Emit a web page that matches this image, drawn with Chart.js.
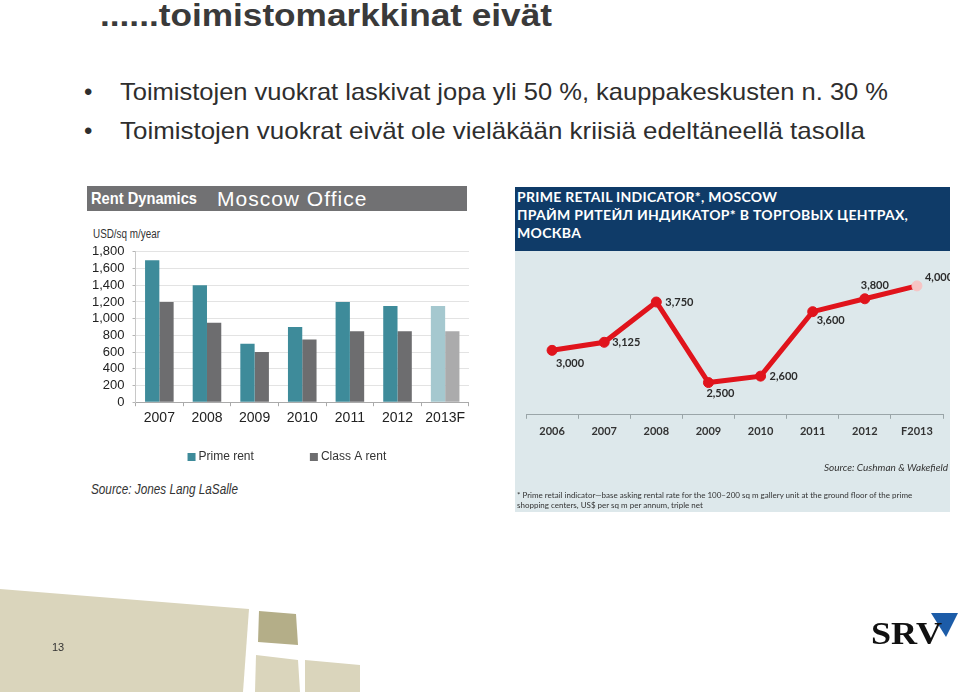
<!DOCTYPE html>
<html>
<head>
<meta charset="utf-8">
<script src="https://cdn.jsdelivr.net/npm/chart.js@4.4.1/dist/chart.umd.min.js"></script>
<style>
  body { margin: 0; background: #fff; }
  #slide { position: relative; width: 960px; height: 692px; overflow: hidden; font-family: "Liberation Sans", Arial, sans-serif; color: #333; }
  .abs { position: absolute; white-space: nowrap; }
  .fit { display: inline-block; transform-origin: 0 50%; }
  #title { left: 100px; top: -1px; font-size: 32px; line-height: 32px; font-weight: bold; color: #3a3a3a; }
  .bullet { left: 84px; font-size: 24px; line-height: 24px; color: #2e2e2e; }
  .bullet .fit { position: absolute; left: 36px; top: 0; }
  #rentHead { left: 87px; top: 186px; width: 380px; height: 25px; background: #717173; color: #fff; }
  #rentHead .a { position: absolute; left: 4px; top: 3px; font-size: 17px; line-height: 19px; font-weight: bold; }
  #rentHead .b { position: absolute; left: 130px; top: 1px; font-size: 21px; letter-spacing: 1px; }
  #rentUnit { left: 93px; top: 227px; font-size: 12px; line-height: 14px; color: #333; }
  #rentSource { left: 91px; top: 481px; font-size: 15px; line-height: 16px; font-style: italic; color: #333; }
  #retailHead { left: 515px; top: 187px; width: 435px; height: 64px; background: #0f3b68; color: #fff; font-family: Lato, "Open Sans", sans-serif; font-weight: bold; font-size: 14px; line-height: 18px; letter-spacing: 0.3px; }
  #retailHead div { position: absolute; left: 2px; }
  #retailBox { left: 515px; top: 251px; width: 435px; height: 261px; background: #dde8eb; }
  #retailSource { right: 12px; top: 461px; font-family: Lato, sans-serif; font-size: 10px; font-style: italic; color: #333; }
  #retailNote { left: 517px; top: 490px; font-family: Lato, sans-serif; font-size: 8px; line-height: 10px; color: #333; }
</style>
</head>
<body>
<div id="slide">
  <div id="title" class="abs"><span class="fit" data-w="452">......toimistomarkkinat eivät</span></div>
  <div class="abs bullet" style="top:80px">•<span class="fit" data-w="768">Toimistojen vuokrat laskivat jopa yli 50 %, kauppakeskusten n. 30 %</span></div>
  <div class="abs bullet" style="top:119px">•<span class="fit" data-w="745">Toimistojen vuokrat eivät ole vieläkään kriisiä edeltäneellä tasolla</span></div>

  <div id="rentHead" class="abs"><div class="a"><span class="fit" data-w="106">Rent Dynamics</span></div><div class="b">Moscow Office</div></div>
  <div id="rentUnit" class="abs"><span class="fit" data-w="67">USD/sq m/year</span></div>
  <canvas id="rentChart" class="abs" width="382" height="236" style="left:87px;top:236px"></canvas>
  <div id="rentSource" class="abs"><span class="fit" data-w="147">Source: Jones Lang LaSalle</span></div>

  <div id="retailHead" class="abs">
    <div style="top:1px">PRIME RETAIL INDICATOR*, MOSCOW</div>
    <div style="top:19px">ПРАЙМ РИТЕЙЛ ИНДИКАТОР* В ТОРГОВЫХ ЦЕНТРАХ,</div>
    <div style="top:37px">МОСКВА</div>
  </div>
  <div id="retailBox" class="abs"></div>
  <canvas id="retailChart" class="abs" width="435" height="261" style="left:515px;top:251px"></canvas>
  <div id="retailSource" class="abs">Source: Cushman &amp; Wakefield</div>
  <div id="retailNote" class="abs">* Prime retail indicator—base asking rental rate for the 100–200 sq m gallery unit at the ground floor of the prime<br>shopping centers, US$ per sq m per annum, triple net</div>

  <svg class="abs" style="left:0;top:0" width="960" height="692">
    <polygon points="0,589 249,609 243,692 0,692" fill="#dad5bc"/>
    <polygon points="259,611 296,614 298,645 258,642" fill="#b4ae88"/>
    <polygon points="256,655 298,660 300,692 255,692" fill="#dad5bc"/>
    <polygon points="305,660 360,665 360,692 305,692" fill="#dad5bc"/>
    <text x="52" y="651" font-family="Liberation Sans, Arial" font-size="11" fill="#333">13</text>
    <polygon points="931,613 958,613 946,637" fill="#1c5ca8"/>
    <text x="871" y="644" font-family="Liberation Serif, serif" font-weight="bold" font-size="31" fill="#111" textLength="71" lengthAdjust="spacingAndGlyphs">SRV</text>
  </svg>
</div>

<script>
// Moscow office rents, USD/sq m/year
const rentYears = ["2007", "2008", "2009", "2010", "2011", "2012", "2013F"];
const primeRent = [1700, 1400, 700, 900, 1200, 1150, 1150];
const classARent = [1200, 950, 600, 750, 850, 850, 850];

// Prime retail indicator, Moscow
const retailYears = ["2006", "2007", "2008", "2009", "2010", "2011", "2012", "F2013"];
const retailIndicator = [3000, 3125, 3750, 2500, 2600, 3600, 3800, 4000];

// squeeze the slide text to the narrow look of the original
document.querySelectorAll(".fit").forEach((el) => {
  const w = el.getBoundingClientRect().width;
  el.style.transform = "scaleX(" + (+el.dataset.w / w) + ")";
});

Chart.defaults.animation = false;
Chart.defaults.font.family = "'Liberation Sans', Arial, sans-serif";

const isForecast = (y) => y.indexOf("F") >= 0;

// legend drawn under the bars, spaced like the original
const rentLegend = {
  id: "rentLegend",
  afterDraw(chart, args, opts) {
    const ctx = chart.ctx;
    let x = chart.chartArea.left + opts.start;
    const y = chart.height - opts.bottom;
    ctx.save();
    ctx.font = "12px 'Liberation Sans', Arial, sans-serif";
    ctx.textBaseline = "middle";
    chart.data.datasets.forEach((ds) => {
      ctx.fillStyle = ds.backgroundColor[0];
      ctx.fillRect(x, y - 4, 8, 8);
      ctx.fillStyle = "#333";
      ctx.fillText(ds.label, x + 11, y);
      x += 11 + ctx.measureText(ds.label).width + opts.gap;
    });
    ctx.restore();
  },
};

new Chart(document.getElementById("rentChart").getContext("2d"), {
  type: "bar",
  data: {
    labels: rentYears,
    datasets: [
      {
        label: "Prime rent",
        data: primeRent,
        backgroundColor: rentYears.map((y) => (isForecast(y) ? "#a5c8cf" : "#3e8b9a")),
      },
      {
        label: "Class A rent",
        data: classARent,
        backgroundColor: rentYears.map((y) => (isForecast(y) ? "#ababac" : "#6d6d6f")),
      },
    ],
  },
  options: {
    responsive: false,
    categoryPercentage: 0.6,
    barPercentage: 1.0,
    layout: { padding: { top: -1, right: 0, left: -3, bottom: 41 } },
    plugins: {
      tooltip: { enabled: false },
      legend: { display: false },
      rentLegend: { start: 52, gap: 56, bottom: 15 },
    },
    scales: {
      x: {
        grid: { drawOnChartArea: false, drawTicks: true, tickLength: 4, color: "#aaa" },
        border: { color: "#aaa" },
        ticks: { color: "#222", font: { size: 14 }, padding: 4 },
      },
      y: {
        min: 0,
        max: 1800,
        ticks: {
          stepSize: 200,
          autoSkip: false,
          color: "#222",
          font: { size: 13 },
          padding: 8,
          callback: (v) => v.toLocaleString("en-US"),
        },
        grid: { color: "#e3e3e3", tickColor: "#b5b5b5", drawTicks: true, tickLength: 3 },
        border: { display: true, color: "#c8c8c8" },
      },
    },
  },
  plugins: [rentLegend],
});

const retailLabelStyle = [
  { dx: 18, dy: 13, align: "center" },
  { dx: 8, dy: 0, align: "left" },
  { dx: 9, dy: 0, align: "left" },
  { dx: 12, dy: 11, align: "center" },
  { dx: 9, dy: 0, align: "left" },
  { dx: 18, dy: 9, align: "center" },
  { dx: 10, dy: -13, align: "center" },
  { dx: 8, dy: -8, align: "left" },
];

const pointLabels = {
  id: "pointLabels",
  afterDatasetsDraw(chart) {
    const ctx = chart.ctx;
    const meta = chart.getDatasetMeta(0);
    ctx.save();
    ctx.font = "bold 11px Lato, 'Open Sans', sans-serif";
    ctx.fillStyle = "#2b2b2b";
    ctx.textBaseline = "middle";
    meta.data.forEach((pt, i) => {
      const s = retailLabelStyle[i];
      ctx.textAlign = s.align;
      ctx.fillText(retailIndicator[i].toLocaleString("en-US"), pt.x + s.dx, pt.y + s.dy);
    });
    ctx.restore();
  },
};

new Chart(document.getElementById("retailChart").getContext("2d"), {
  type: "line",
  data: {
    labels: retailYears,
    datasets: [
      {
        label: "Prime retail indicator",
        data: retailIndicator,
        borderColor: "#e0141c",
        borderWidth: 5,
        pointRadius: 5,
        pointBackgroundColor: retailYears.map((y) => (isForecast(y) ? "#f6c4c4" : "#e0141c")),
        pointBorderColor: retailYears.map((y) => (isForecast(y) ? "#f6c4c4" : "#e0141c")),
        pointBorderWidth: 1,
        tension: 0,
      },
    ],
  },
  options: {
    responsive: false,
    layout: { padding: { top: 22, left: 11, right: 7, bottom: 68 } },
    plugins: { legend: { display: false }, tooltip: { enabled: false } },
    scales: {
      x: {
        offset: true,
        grid: { offset: true, drawOnChartArea: false, drawTicks: true, tickLength: 4, color: "#9aa5a8" },
        border: { color: "#9aa5a8" },
        ticks: { color: "#333", padding: 6, font: { size: 11, weight: "bold", family: "Lato, 'Open Sans', sans-serif" } },
      },
      y: { display: false, min: 2000, max: 4200 },
    },
  },
  plugins: [pointLabels],
});
</script>
</body>
</html>
